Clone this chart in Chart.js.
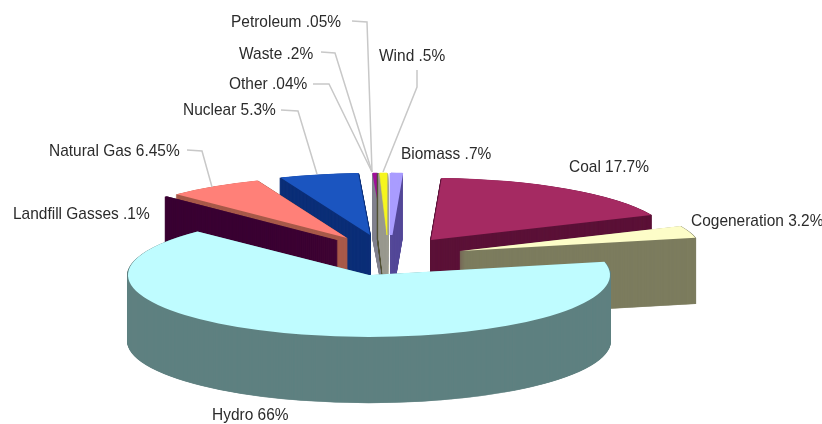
<!DOCTYPE html>
<html>
<head>
<meta charset="utf-8">
<title>Energy sources</title>
<script src="https://cdn.jsdelivr.net/npm/chart.js@4"></script>
<style>
  html, body { margin: 0; padding: 0; background: #fff; }
  #wrap { width: 822px; height: 424px; }
  #pie { filter: blur(0.4px); }
</style>
</head>
<body>
<div id="wrap"><canvas id="pie"></canvas></div>
<script>
// data, clockwise starting at the hydro slice
const categories = ['Hydro', 'Landfill Gasses', 'Natural Gas', 'Nuclear', 'Other', 'Waste', 'Petroleum', 'Wind', 'Biomass', 'Coal', 'Cogeneration']
const shares = [66, 0.1, 6.45, 5.3, 0.04, 0.2, 0.05, 0.5, 0.7, 17.7, 3.2]

const topColors = ['#bffcff', '#3a0033', '#ff8078', '#1b55c0', '#8a8a9c', '#a0109a', '#8a8a9c', '#f6f61e', '#a99cff', '#a52a62', '#fdfdc8']
const sideColors = ['#5f8080', '#3a0033', '#a85a4a', '#0c2f78', '#80808f', '#80808f', '#55553a', '#9a9a90', '#554a99', '#5c1238', '#7d7d5f']
// the tiny slices get a border so they stay visible at all
const topBorders = [0, 0, 0, 0, 0, 3, 0, 1, 3, 0, 0]

// how far each slice is pulled out of the pie, in px on screen
const explodeX = [0, -32, -22, 1, 16, 16, 17, 18, 22, 62, 91]
const explodeY = [0, -35, -37, -40, -40, -40, -40, -40, -40, -35, -24]

// back to front, hydro has to cover everything else
const paintOrder = [4, 5, 6, 7, 8, 3, 2, 1, 9, 10, 0]

const squash = 62 / 241
const depth = 66

// label anchor + leader line for each category
const callouts = {
  'Hydro': { x: 212, y: 420, line: [] },
  'Landfill Gasses': { x: 13, y: 219, line: [] },
  'Natural Gas': { x: 49, y: 156, line: [[187, 150], [202, 151], [212, 187]] },
  'Nuclear': { x: 183, y: 115, line: [[281, 110], [298, 111], [317, 174]] },
  'Other': { x: 229, y: 89, line: [[313, 84], [329, 84], [372, 172]] },
  'Waste': { x: 239, y: 59, line: [[321, 52], [335, 53], [372, 172]] },
  'Petroleum': { x: 231, y: 27, line: [[352, 21], [367, 22], [370, 110], [372, 172]] },
  'Wind': { x: 379, y: 61, line: [[417, 70], [417, 87], [383, 172]] },
  'Biomass': { x: 401, y: 159, line: [] },
  'Coal': { x: 569, y: 172, line: [] },
  'Cogeneration': { x: 691, y: 226, line: [] }
}

function shareLabel(i) {
  return categories[i] + ' ' + String(shares[i]).replace(/^0/, '') + '%'
}

const tiltedPie = {
  id: 'tiltedPie',
  beforeDatasetsDraw(chart) {
    const ctx = chart.ctx
    const arcs = chart.getDatasetMeta(0).data
    paintOrder.forEach(i => {
      const arc = arcs[i]
      const topOptions = arc.options
      // the wall is just the same slice stamped again and again lower down
      arc.options = Object.assign({}, topOptions, { backgroundColor: sideColors[i], borderColor: sideColors[i], borderWidth: 2 })
      for (let d = depth; d >= 0; d -= 0.5) {
        if (d == 0) arc.options = topOptions
        ctx.save()
        ctx.translate(arc.x + explodeX[i], arc.y + explodeY[i] + d)
        ctx.scale(1, squash)
        ctx.translate(-arc.x, -arc.y)
        arc.draw(ctx)
        ctx.restore()
      }
    })
    return false
  },
  afterDraw(chart) {
    const ctx = chart.ctx
    ctx.save()
    // leader lines
    ctx.strokeStyle = '#c8c8c8'
    ctx.lineWidth = 1.5
    categories.forEach(name => {
      const pts = callouts[name].line
      if (!pts.length) return
      ctx.beginPath()
      pts.forEach((p, k) => k ? ctx.lineTo(p[0], p[1]) : ctx.moveTo(p[0], p[1]))
      ctx.stroke()
    })
    // the labels in the picture are tall and narrow, so squeeze them a bit
    ctx.fillStyle = '#2b2b2b'
    ctx.font = '17px "Liberation Sans", Arial, sans-serif'
    ctx.textBaseline = 'alphabetic'
    categories.forEach((name, i) => {
      ctx.save()
      ctx.translate(callouts[name].x, callouts[name].y)
      ctx.scale(0.91, 1)
      ctx.fillText(shareLabel(i), 0, 0)
      ctx.restore()
    })
    ctx.restore()
  }
}

new Chart(document.getElementById('pie'), {
  type: 'pie',
  data: {
    labels: categories,
    datasets: [{
      data: shares,
      backgroundColor: topColors,
      borderColor: topColors,
      borderWidth: topBorders
    }]
  },
  options: {
    responsive: true,
    maintainAspectRatio: false,
    animation: false,
    rotation: 77.6,
    radius: 241,
    layout: { padding: { right: 84, top: 126 } },
    plugins: { legend: { display: false }, tooltip: { enabled: false } }
  },
  plugins: [tiltedPie]
})
</script>
</body>
</html>
